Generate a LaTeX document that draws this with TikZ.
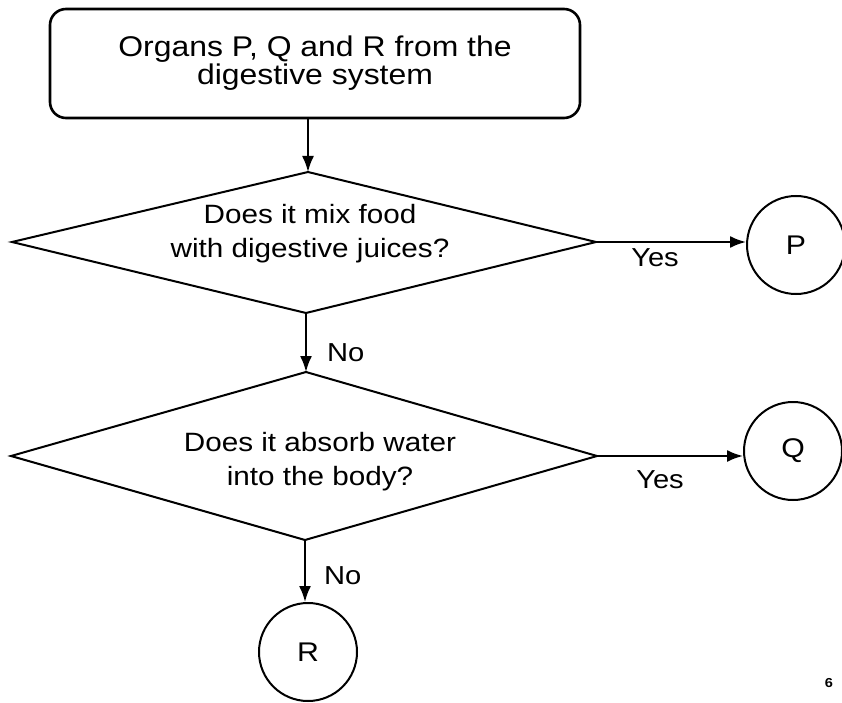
\documentclass[tikz,border=0pt]{standalone}
\usepackage{fontspec}
\setmainfont[FakeStretch=1.12]{Liberation Sans}
\usetikzlibrary{arrows.meta}

\tikzset{
  flowline/.style={line width=2pt, line join=miter},
  flowarrow/.style={line width=2pt, -{Latex[length=16pt,width=12pt]}},
  startbox/.style={draw, line width=2.6pt, rounded corners=16pt,
    minimum width=530pt, minimum height=109pt, align=center,
    font=\fontsize{28.5}{28}\selectfont},
  askline/.style={align=center, font=\fontsize{26.5}{34}\selectfont},
  organ/.style={draw, circle, line width=2pt, minimum size=98pt,
    inner sep=0pt, font=\fontsize{27}{30}\selectfont},
  answer/.style={inner sep=0pt, font=\fontsize{26}{28}\selectfont}
}

\begin{document}
\begin{tikzpicture}[x=1pt,y=-1pt]
    \useasboundingbox (0,0) rectangle (842,703);
    \node[startbox] (start) at (315,63.5) {Organs P, Q and R from the\\digestive system};
    % first question
    \coordinate (q1t) at (308,172);
    \coordinate (q1r) at (596,242);
    \coordinate (q1b) at (306,313);
    \coordinate (q1l) at (12,242);
    \draw[flowline] (q1l) -- (q1t) -- (q1r) -- (q1b) -- cycle;
    \node[askline] (q1) at (310,234) {Does it mix food\\with digestive juices?};
    % second question
    \coordinate (q2t) at (306,372);
    \coordinate (q2r) at (597,456);
    \coordinate (q2b) at (305,540);
    \coordinate (q2l) at (11,456);
    \draw[flowline] (q2l) -- (q2t) -- (q2r) -- (q2b) -- cycle;
    \node[askline] (q2) at (320,462) {Does it absorb water\\into the body?};
    % organs
    \node[organ] (P) at (796,245) {P};
    \node[organ] (Q) at (793,451) {Q};
    \node[organ] (R) at (308,652) {R};
    % connectors
    \draw[flowarrow] (start.south -| q1t) -- (q1t);
    \draw[flowarrow] (q1b) -- (q2t);
    \draw[flowarrow] (q1r) -- (q1r -| P.west);
    \draw[flowarrow] (q2r) -- (q2r -| Q.west);
    \draw[flowarrow] (q2b) -- (q2b |- R.north);
    \node[answer] (yes1) at (655,258) {Yes};
    \node[answer] (yes2) at (660,480) {Yes};
    \node[answer, anchor=west] (no1) at (327,353) {No};
    \node[answer, anchor=west] (no2) at (324,576) {No};
    \node[inner sep=0pt, font=\fontsize{13}{13}\selectfont\bfseries] (page) at (829,683) {6};
\end{tikzpicture}
\end{document}
